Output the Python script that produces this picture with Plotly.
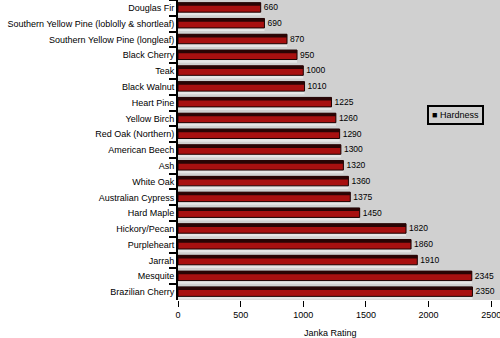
import plotly.graph_objects as go

woods = ["Douglas Fir", "Southern Yellow Pine (loblolly & shortleaf)",
         "Southern Yellow Pine (longleaf)", "Black Cherry", "Teak", "Black Walnut",
         "Heart Pine", "Yellow Birch", "Red Oak (Northern)", "American Beech", "Ash",
         "White Oak", "Australian Cypress", "Hard Maple", "Hickory/Pecan",
         "Purpleheart", "Jarrah", "Mesquite", "Brazilian Cherry"]
hardness = [660, 690, 870, 950, 1000, 1010, 1225, 1260, 1290, 1300, 1320,
            1360, 1375, 1450, 1820, 1860, 1910, 2345, 2350]
x_ticks = [0, 500, 1000, 1500, 2000, 2500]
series_name = "Hardness"

FONT = "Liberation Sans, Arial, sans-serif"

fig = go.Figure()
# floor (light strip under each bar)
fig.add_trace(go.Bar(y=woods, x=hardness, orientation="h", width=0.2, offset=0.27,
                     marker=dict(color="#e6e6e6", line=dict(width=0)),
                     showlegend=False, hoverinfo="skip"))
# main red bar
fig.add_trace(go.Bar(y=woods, x=hardness, orientation="h", width=0.6, offset=-0.33,
                     marker=dict(color="#a81010", line=dict(color="#1a0000", width=1)),
                     text=[str(v) for v in hardness], textposition="outside",
                     textfont=dict(family=FONT, size=9, color="black"),
                     cliponaxis=False, showlegend=False, name=series_name))
# dark top face
fig.add_trace(go.Bar(y=woods, x=hardness, orientation="h", width=0.2, offset=-0.33,
                     marker=dict(color="#2a0404", line=dict(width=0)),
                     showlegend=False, hoverinfo="skip"))

fig.update_layout(
    width=500, height=338,
    margin=dict(l=178, r=0, t=0, b=38),
    barmode="overlay",
    paper_bgcolor="white",
    plot_bgcolor="#d0d0d0",
    font=dict(family=FONT, size=9, color="black"),
    showlegend=False,
    xaxis=dict(range=[0, 2570], tickvals=x_ticks, showgrid=False, zeroline=False,
               ticks="outside", ticklen=6, tickcolor="black", tickwidth=1,
               showline=False, ticklabeloverflow="allow",
               tickfont=dict(family=FONT, size=9)),
    yaxis=dict(autorange="reversed", showgrid=False, ticks="outside", ticklen=7,
               tickson="boundaries", tickcolor="black", tickwidth=2,
               showline=True, linecolor="black", linewidth=2,
               tickfont=dict(family=FONT, size=9)),
    annotations=[
        dict(text="Janka Rating", x=1220, y=-0.085, xref="x", yref="paper",
             showarrow=False, yanchor="top",
             font=dict(family=FONT, size=9, color="black")),
        dict(text="■ " + series_name, x=0.863, y=0.617, xref="paper", yref="paper",
             showarrow=False, xanchor="center", yanchor="middle",
             bordercolor="black", borderwidth=2, borderpad=3,
             font=dict(family=FONT, size=9, color="black")),
    ],
)

fig.write_html("out.html")
